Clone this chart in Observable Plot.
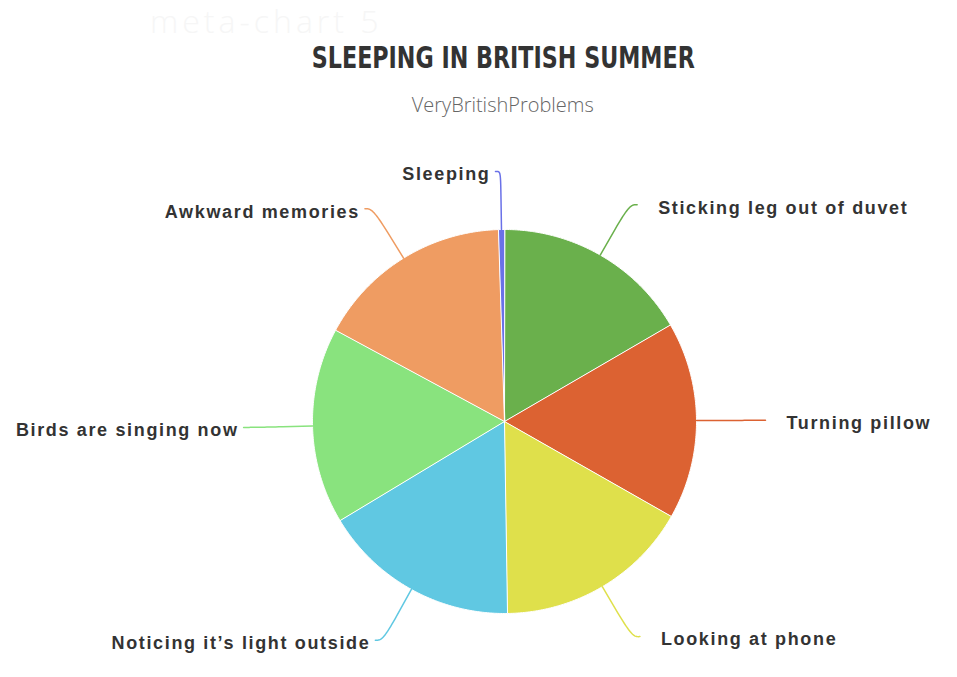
<!DOCTYPE html>
<html>
<head>
<meta charset="utf-8">
<script src="https://cdn.jsdelivr.net/npm/d3@7"></script>
<script src="https://cdn.jsdelivr.net/npm/@observablehq/plot@0.6"></script>
<style>
  html, body { margin: 0; padding: 0; background: #ffffff; }
  body { width: 957px; height: 677px; overflow: hidden; font-family: "Liberation Sans", Arial, sans-serif; }
  #header { position: relative; width: 957px; height: 130px; }
  #wm { position: absolute; left: 150px; top: 4px; height: 34px; font: 300 32px/34px "Open Sans", "Noto Sans", sans-serif; letter-spacing: 4px; color: #f6f6f6; white-space: nowrap; }
  .hd { position: absolute; white-space: nowrap; transform-origin: 50% 50%; }
  #title { font: bold 31px "DejaVu Sans Condensed", "DejaVu Sans", sans-serif; color: #333333; }
  #subtitle { font: 300 21px "Open Sans", "Lato", sans-serif; color: #666666; }
</style>
</head>
<body>
<div id="header">
  <div id="wm">meta-chart 5</div>
  <span id="title" class="hd">SLEEPING IN BRITISH SUMMER</span>
  <span id="subtitle" class="hd">VeryBritishProblems</span>
</div>
<div id="chart"></div>
<script>
// ---- data ----
const categories = [
  "Sticking leg out of duvet",
  "Turning pillow",
  "Looking at phone",
  "Noticing it’s light outside",
  "Birds are singing now",
  "Awkward memories",
  "Sleeping"
];
const values = [16.6, 16.6, 16.5, 16.6, 16.5, 16.6, 0.5];
const colors = ["#6ab04c", "#dc6232", "#dfe04b", "#60c8e2", "#89e37e", "#ef9c62", "#6a71e8"];

// ---- header placement (fit text to reference widths) ----
function place(id, cx, cy, targetW) {
  const el = document.getElementById(id);
  const r = el.getBoundingClientRect();
  const s = targetW / r.width;
  el.style.left = (cx - r.width / 2) + "px";
  el.style.top = (cy - r.height / 2) + "px";
  el.style.transform = `scaleX(${s})`;
}
place("title", 503, 57, 383);
place("subtitle", 503, 104, 182);

// ---- geometry from data ----
const R = 192;          // pie radius (scale units)
const labelRx = 256;    // label distance (horizontal)
const labelRy = 250;    // label distance (vertical)
const arcs = d3.pie().sort(null).value((d, i) => values[i])(categories);

const slicePts = [];
const connPts = [];
const labels = [];
arcs.forEach((a, i) => {
  const name = categories[i];
  const span = a.endAngle - a.startAngle;
  const n = Math.max(2, Math.ceil(span / (Math.PI / 360)));
  slicePts.push({name, x: 0, y: 0});
  for (let k = 0; k <= n; k++) {
    const t = a.startAngle + span * k / n;
    slicePts.push({name, x: R * Math.sin(t), y: -R * Math.cos(t)});
  }
  const mid = (a.startAngle + a.endAngle) / 2;
  const ux = Math.sin(mid), uy = -Math.cos(mid);
  const side = ux > 0 ? 1 : -1;
  const L = {x: labelRx * ux + side * 5, y: labelRy * uy};
  const c1 = {x: L.x - side * 5, y: L.y};
  const c2 = {x: (R + 60) * ux, y: (R + 60) * uy};
  const b = {x: (R + 30) * ux, y: (R + 30) * uy};
  const m = 24;
  for (let k = 0; k <= m; k++) {
    const t = k / m, s = 1 - t;
    connPts.push({
      name,
      x: s*s*s*L.x + 3*s*s*t*c1.x + 3*s*t*t*c2.x + t*t*t*b.x,
      y: s*s*s*L.y + 3*s*s*t*c1.y + 3*s*t*t*c2.y + t*t*t*b.y
    });
  }
  connPts.push({name, x: R * ux, y: R * uy});
  labels.push({name, x: L.x, y: L.y, side});
});

const chart = Plot.plot({
  width: 957,
  height: 547,
  margin: 0,
  x: {domain: [-504, 453], range: [0, 957], axis: null},
  y: {domain: [-291, 256], range: [0, 547], axis: null},
  color: {domain: categories, range: colors},
  style: {background: "transparent", letterSpacing: "1.65px"},
  marks: [
    Plot.line(slicePts, {x: "x", y: "y", z: "name", fill: "name", stroke: "#ffffff", strokeWidth: 1, curve: "linear-closed"}),
    Plot.line(connPts, {x: "x", y: "y", z: "name", stroke: "name", strokeWidth: 1.5}),
    Plot.text(labels.filter(d => d.side > 0), {x: "x", y: "y", text: "name", textAnchor: "start", dx: 21, dy: 3,
      fontSize: 18, fontWeight: "bold", fontFamily: "Liberation Sans, Arial, sans-serif", fill: "#333333"}),
    Plot.text(labels.filter(d => d.side < 0), {x: "x", y: "y", text: "name", textAnchor: "end", dx: -5, dy: 3,
      fontSize: 18, fontWeight: "bold", fontFamily: "Liberation Sans, Arial, sans-serif", fill: "#333333"})
  ]
});
document.getElementById("chart").appendChild(chart);
</script>
</body>
</html>
